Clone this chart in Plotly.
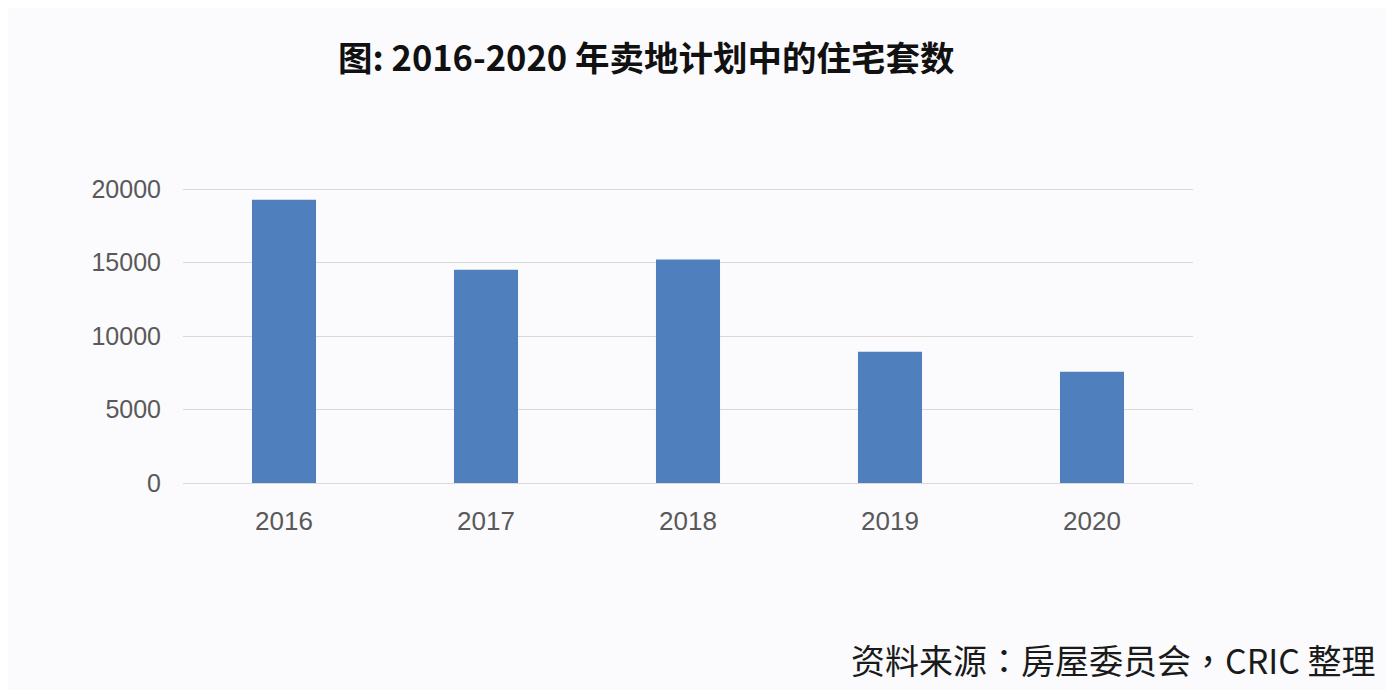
import plotly.graph_objects as go

years = ["2016", "2017", "2018", "2019", "2020"]
units = [19270, 14500, 15200, 8930, 7570]
y_ticks = [0, 5000, 10000, 15000, 20000]

title_text = "图: 2016-2020 年卖地计划中的住宅套数"
source_text = "资料来源：房屋委员会，CRIC 整理"

fig = go.Figure(
    go.Bar(x=years, y=units, marker=dict(color="#4f7fbd", line=dict(width=0)),
           hoverinfo="x+y")
)

# page body has an 8px default margin; figure sized to fit inside it
W, H = 1386, 682
L, R, T, B = 175, 1185, 180, 475

fig.update_layout(
    width=W, height=H,
    margin=dict(l=L, r=W - R, t=T, b=H - B),
    paper_bgcolor="#fbfbfd",
    plot_bgcolor="#fbfbfd",
    bargap=0.683,
    showlegend=False,
    font=dict(family="Liberation Sans, Noto Sans CJK SC", color="#595959", size=25),
    xaxis=dict(
        type="category",
        showgrid=False,
        showline=True, linecolor="#d9d9d9", linewidth=1,
        ticks="outside", ticklen=15, tickcolor="rgba(0,0,0,0)",
        tickfont=dict(size=26, color="#595959"),
    ),
    yaxis=dict(
        range=[0, 20070],
        tickvals=y_ticks,
        ticktext=[str(v) for v in y_ticks],
        showgrid=True, gridcolor="#d9d9d9", gridwidth=1,
        zeroline=True, zerolinecolor="#d9d9d9", zerolinewidth=1,
        showline=False,
        ticks="outside", ticklen=16, tickcolor="rgba(0,0,0,0)",
        tickfont=dict(size=25, color="#595959"),
    ),
    annotations=[
        dict(text="<b>" + title_text + "</b>", xref="paper", yref="paper",
             x=(638 - L) / (R - L), y=(B - 48) / (B - T),
             xanchor="center", yanchor="middle", showarrow=False,
             font=dict(family="Noto Sans CJK SC", size=34.5, color="#111111")),
        dict(text=source_text, xref="paper", yref="paper",
             x=(1370 - L) / (R - L), y=(B - 651) / (B - T),
             xanchor="right", yanchor="middle", showarrow=False,
             font=dict(family="Noto Sans CJK TC", size=34, color="#1a1a1a")),
    ],
)

fig.write_html("out.html")
